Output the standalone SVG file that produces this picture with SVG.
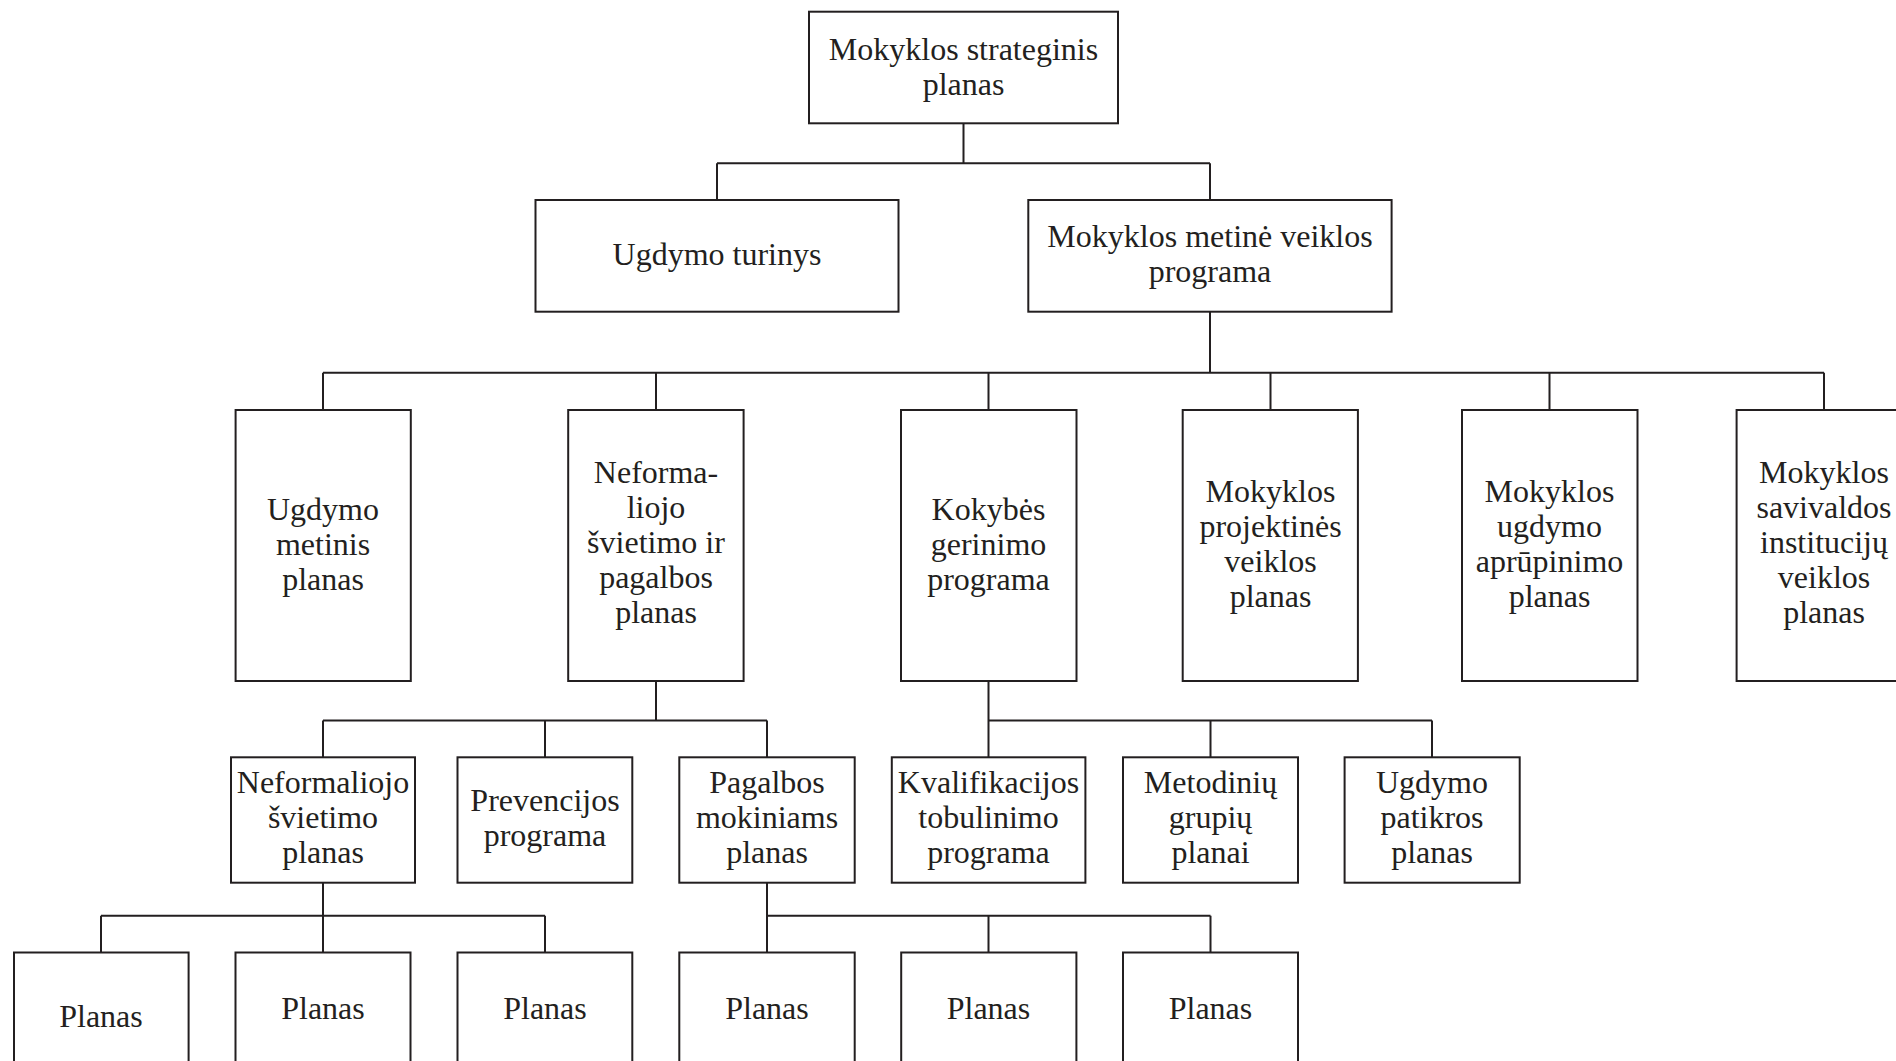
<svg xmlns="http://www.w3.org/2000/svg" width="1896" height="1061" viewBox="0 0 1896 1061">
<style>
.b{fill:#fff;stroke:#231f20;stroke-width:2}
.c{fill:none;stroke:#231f20;stroke-width:2}
text{font-family:"Liberation Serif","Times New Roman",serif;font-size:32px;fill:#231f20;text-anchor:middle}
</style>
<rect width="1896" height="1061" fill="#fff"/>
<g id="connectors" class="c">
<path d="M963.5 123.3V163.3M717 163.3H1210M717 163.3V200M1210 163.3V200"/>
<path d="M1210 311.7V372.7M323 372.7H1824M323 372.7V410M656 372.7V410M988.5 372.7V410M1270.5 372.7V410M1549.5 372.7V410M1824 372.7V410"/>
<path d="M656 681V720.5M323 720.5H767M323 720.5V757.3M545 720.5V757.3M767 720.5V757.3"/>
<path d="M988.5 681V720.5H1432M1210.5 720.5V757.3M1432 720.5V757.3M988.5 720.5V757.3"/>
<path d="M323 882.7V915.7M101 915.7H545M101 915.7V952.5M323 915.7V952.5M545 915.7V952.5"/>
<path d="M767 882.7V915.7H1210.5M767 915.7V952.5M988.5 915.7V952.5M1210.5 915.7V952.5"/>
</g>
<g id="n-strateginis"><rect class="b" x="809" y="11.7" width="309" height="111.6"/><text x="963.5" y="59.5">Mokyklos strateginis</text><text x="963.5" y="94.5">planas</text></g>
<g id="n-turinys"><rect class="b" x="535.5" y="200" width="363" height="111.7"/><text x="717" y="265">Ugdymo turinys</text></g>
<g id="n-metine"><rect class="b" x="1028.3" y="200" width="363.3" height="111.7"/><text x="1210" y="247">Mokyklos metinė veiklos</text><text x="1210" y="282">programa</text></g>
<g id="n-ugdymo-metinis"><rect class="b" x="235.6" y="410" width="175.2" height="271"/><text x="323" y="520">Ugdymo</text><text x="323" y="555">metinis</text><text x="323" y="590">planas</text></g>
<g id="n-neformaliojo-pagalbos"><rect class="b" x="568.2" y="410" width="175.4" height="271"/><text x="656" y="483">Neforma-</text><text x="656" y="518">liojo</text><text x="656" y="553">švietimo ir</text><text x="656" y="588">pagalbos</text><text x="656" y="623">planas</text></g>
<g id="n-kokybes"><rect class="b" x="901" y="410" width="175.5" height="271"/><text x="988.5" y="520">Kokybės</text><text x="988.5" y="555">gerinimo</text><text x="988.5" y="590">programa</text></g>
<g id="n-projektines"><rect class="b" x="1182.7" y="410" width="175.2" height="271"/><text x="1270.5" y="502">Mokyklos</text><text x="1270.5" y="537">projektinės</text><text x="1270.5" y="572">veiklos</text><text x="1270.5" y="607">planas</text></g>
<g id="n-aprupinimo"><rect class="b" x="1462" y="410" width="175.5" height="271"/><text x="1549.5" y="502">Mokyklos</text><text x="1549.5" y="537">ugdymo</text><text x="1549.5" y="572">aprūpinimo</text><text x="1549.5" y="607">planas</text></g>
<g id="n-savivaldos"><rect class="b" x="1736.6" y="410" width="175" height="271"/><text x="1824" y="483">Mokyklos</text><text x="1824" y="518">savivaldos</text><text x="1824" y="553">institucijų</text><text x="1824" y="588">veiklos</text><text x="1824" y="623">planas</text></g>
<g id="n-neformaliojo-svietimo"><rect class="b" x="231" y="757.3" width="184" height="125.4"/><text x="323" y="793">Neformaliojo</text><text x="323" y="828">švietimo</text><text x="323" y="863">planas</text></g>
<g id="n-prevencijos"><rect class="b" x="457.5" y="757.3" width="174.8" height="125.4"/><text x="545" y="811">Prevencijos</text><text x="545" y="846">programa</text></g>
<g id="n-pagalbos"><rect class="b" x="679.3" y="757.3" width="175.4" height="125.4"/><text x="767" y="793">Pagalbos</text><text x="767" y="828">mokiniams</text><text x="767" y="863">planas</text></g>
<g id="n-kvalifikacijos"><rect class="b" x="891.8" y="757.3" width="193.6" height="125.4"/><text x="988.5" y="793">Kvalifikacijos</text><text x="988.5" y="828">tobulinimo</text><text x="988.5" y="863">programa</text></g>
<g id="n-metodiniu"><rect class="b" x="1123" y="757.3" width="175" height="125.4"/><text x="1210.5" y="793">Metodinių</text><text x="1210.5" y="828">grupių</text><text x="1210.5" y="863">planai</text></g>
<g id="n-patikros"><rect class="b" x="1344.6" y="757.3" width="175.1" height="125.4"/><text x="1432" y="793">Ugdymo</text><text x="1432" y="828">patikros</text><text x="1432" y="863">planas</text></g>
<g id="n-planas-1"><rect class="b" x="14" y="952.5" width="174.6" height="120"/><text x="101" y="1027">Planas</text></g>
<g id="n-planas-2"><rect class="b" x="235.5" y="952.5" width="175" height="120"/><text x="323" y="1019">Planas</text></g>
<g id="n-planas-3"><rect class="b" x="457.5" y="952.5" width="174.8" height="120"/><text x="545" y="1019">Planas</text></g>
<g id="n-planas-4"><rect class="b" x="679.3" y="952.5" width="175.4" height="120"/><text x="767" y="1019">Planas</text></g>
<g id="n-planas-5"><rect class="b" x="901.2" y="952.5" width="175.2" height="120"/><text x="988.5" y="1019">Planas</text></g>
<g id="n-planas-6"><rect class="b" x="1123" y="952.5" width="175" height="120"/><text x="1210.5" y="1019">Planas</text></g>
</svg>
